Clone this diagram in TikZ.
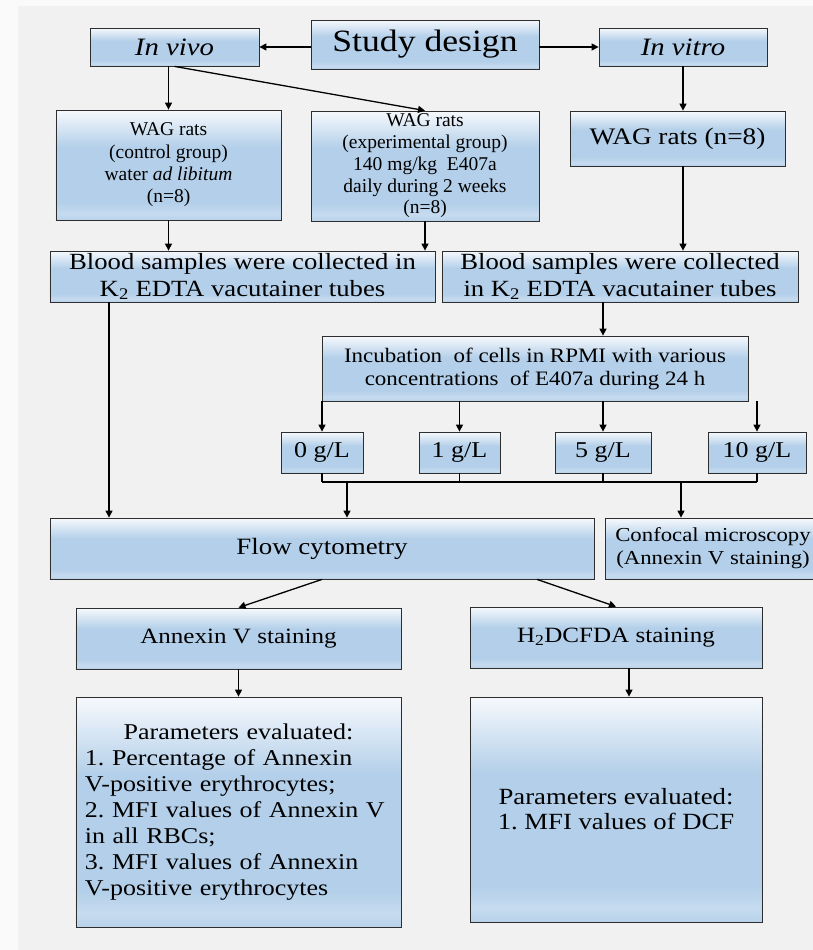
\documentclass[tikz,border=0pt]{standalone}
\usepackage{fontspec}
\setmainfont{Liberation Serif}
\newfontfamily\fA{Liberation Serif}[FakeStretch=1.15]
\newfontfamily\fB{Liberation Serif}[FakeStretch=1.0]
\newfontfamily\fC{Liberation Serif}[FakeStretch=1.12]
\usetikzlibrary{arrows.meta,calc}
\frenchspacing
\definecolor{bgwhite}{HTML}{FAFAFA}
\definecolor{bggray}{HTML}{F1F1F1}
\definecolor{bA}{HTML}{B3CFE9}
\definecolor{bB}{HTML}{C6DBEF}
\definecolor{bC}{HTML}{B8D2EA}
\definecolor{bT}{HTML}{F6F9FD}
\definecolor{edge}{HTML}{2E2E2E}
\pgfdeclareverticalshading{boxshade}{100bp}{color(0bp)=(bC); color(25bp)=(bC); color(28bp)=(bB); color(33bp)=(bA); color(58bp)=(bA); color(75bp)=(bT); color(100bp)=(bT)}
\tikzset{
  box/.style={draw=edge, line width=0.8bp, shade, shading=boxshade, inner sep=0pt, align=center},
  arr/.style={-{Triangle[length=7bp,width=7bp]}, line width=1.3bp, black},
  ln/.style={line width=1.3bp, black}
}
\begin{document}
\begin{tikzpicture}[x=1bp,y=-1bp]
\useasboundingbox (0,0) rectangle (813,950);
\clip (0,0) rectangle (813,950);
\fill[bgwhite] (0,0) rectangle (813,950);
\fill[bggray] (18,6) rectangle (813,950);

% top row
\node[box, minimum width=228bp, minimum height=49bp, font=\fA\fontsize{31bp}{34bp}\selectfont] (study) at (425,44.5) {Study design};
\node[box, minimum width=169bp, minimum height=38bp, font=\fA\fontsize{25bp}{28bp}\selectfont] (invivo) at (174.5,47) {\textit{In vivo}};
\node[box, minimum width=168bp, minimum height=38bp, font=\fA\fontsize{25bp}{28bp}\selectfont] (invitro) at (683,47) {\textit{In vitro}};

% second row
\node[box, minimum width=225bp, minimum height=110bp, font=\fB\fontsize{19.5bp}{22.3bp}\selectfont] (control) at (168.5,165) {WAG rats\\(control group)\\water \textit{ad libitum}\\(n=8)};
\node[box, minimum width=228bp, minimum height=110bp, font=\fB\fontsize{19.5bp}{21.7bp}\selectfont] (exp) at (425,166) {WAG rats\\(experimental group)\\140 mg/kg\ \ E407a\\daily during 2 weeks\\(n=8)};
\node[box, minimum width=215bp, minimum height=55bp, font=\fA\fontsize{23.7bp}{27bp}\selectfont] (wagn) at (677.5,138.5) {WAG rats (n=8)};

% blood
\node[box, minimum width=385bp, minimum height=51bp, font=\fA\fontsize{23.2bp}{27bp}\selectfont] (bloodL) at (242.5,276.5) {Blood samples were collected in\\K\textsubscript{2} EDTA vacutainer tubes};
\node[box, minimum width=356bp, minimum height=51bp, font=\fA\fontsize{23.2bp}{27bp}\selectfont] (bloodR) at (620,276.5) {Blood samples were collected\\in K\textsubscript{2} EDTA vacutainer tubes};

% incubation
\node[box, minimum width=426bp, minimum height=65bp, font=\fC\fontsize{20.5bp}{23bp}\selectfont] (inc) at (535,368.5) {Incubation\ \ of cells in RPMI with various\\concentrations\ \ of E407a during 24 h};

% concentrations
\node[box, minimum width=82bp, minimum height=41bp, font=\fA\fontsize{22.6bp}{26bp}\selectfont] (g0) at (322,452.5) {0 g/L};
\node[box, minimum width=81bp, minimum height=41bp, font=\fA\fontsize{22.6bp}{26bp}\selectfont] (g1) at (459.5,452.5) {1 g/L};
\node[box, minimum width=96bp, minimum height=41bp, font=\fA\fontsize{22.6bp}{26bp}\selectfont] (g5) at (603,452.5) {5 g/L};
\node[box, minimum width=98bp, minimum height=41bp, font=\fA\fontsize{22.6bp}{26bp}\selectfont] (g10) at (757,452.5) {10 g/L};

% methods
\node[box, minimum width=544bp, minimum height=61bp, font=\fA\fontsize{23.4bp}{27bp}\selectfont] (flow) at (322,548.5) {Flow cytometry};
\node[box, minimum width=216bp, minimum height=61bp, font=\fA\fontsize{19.8bp}{23bp}\selectfont] (conf) at (713,548.5) {Confocal microscopy\\(Annexin V staining)};

\node[box, minimum width=325bp, minimum height=61bp, font=\fA\fontsize{21.8bp}{25bp}\selectfont] (annex) at (238.5,638.5) {Annexin V staining};
\node[box, minimum width=292bp, minimum height=61bp, font=\fA\fontsize{21.8bp}{25bp}\selectfont] (h2) at (616,637.5) {H\textsubscript{2}DCFDA staining};

% parameters
\node[box, minimum width=325bp, minimum height=230bp, inner xsep=9bp, text width=307bp, align=left, font=\fA\fontsize{22.6bp}{26bp}\selectfont] (pL) at (238.5,812) {\makebox[307bp][c]{Parameters evaluated:}\\1. Percentage of Annexin\\V-positive erythrocytes;\\2. MFI values of Annexin V\\in all RBCs;\\3. MFI values of Annexin\\V-positive erythrocytes};
\node[box, minimum width=292bp, minimum height=225bp, font=\fA\fontsize{23.2bp}{25bp}\selectfont] (pR) at (616,809.5) {Parameters evaluated:\\1. MFI values of DCF};

% helper coordinates
\coordinate (bus) at (0,482);
\coordinate (lx) at (109,0);
\coordinate (fa) at (347,482);
\coordinate (ca) at (681,482);
\coordinate (hx) at (629,0);
\coordinate (fs) at (537,579);

% connectors
\draw[arr] (study.west |- invivo.east) -- (invivo.east);
\draw[arr] (study.east |- invitro.west) -- (invitro.west);
\draw[arr] (control.north |- invivo.south) -- (control.north);
\draw[arr] (invivo.south) -- (exp.north);
\draw[arr] (invitro.south) -- (invitro.south |- wagn.north);

\draw[arr] (control.south) -- (control.south |- bloodL.north);
\draw[arr] (exp.south) -- (exp.south |- bloodL.north);
\draw[arr] (invitro.south |- wagn.south) -- (invitro.south |- bloodR.north);

\draw[arr] (g5.north |- bloodR.south) -- (g5.north |- inc.north);
\foreach \g in {g0,g1,g5,g10}{
  \draw[arr] (\g.north |- inc.south) -- (\g.north);
  \draw[ln] (\g.south) -- (\g.south |- bus);
}
\draw[ln] (g0.south |- bus) -- (g10.south |- bus);
\draw[arr] (fa) -- (fa |- flow.north);
\draw[arr] (ca) -- (ca |- conf.north);
\draw[arr] (lx |- bloodL.south) -- (lx |- flow.north);

\draw[arr] (flow.south) -- (annex.north);
\draw[arr] (fs |- flow.south) -- (h2.north);
\draw[arr] (annex.south) -- (pL.north);
\draw[arr] (hx |- h2.south) -- (hx |- pR.north);
\end{tikzpicture}
\end{document}
